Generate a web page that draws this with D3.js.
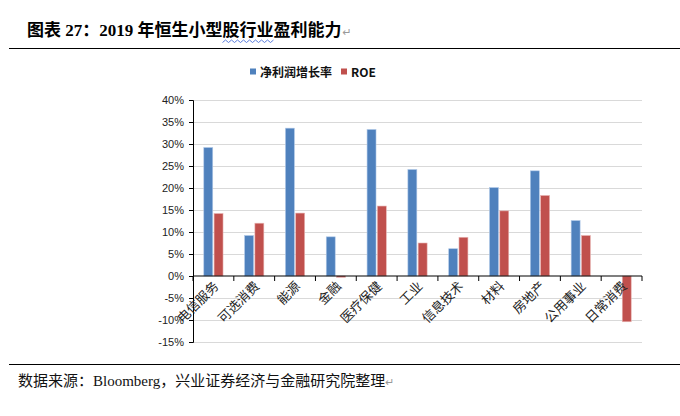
<!DOCTYPE html>
<html>
<head>
<meta charset="utf-8">
<script src="https://cdn.jsdelivr.net/npm/d3@7"></script>
<style>
  body { margin: 0; background: #fff; }
  svg { display: block; }
  .ytick text { font-family: "Liberation Sans", Arial, sans-serif; font-size: 11px; fill: #222; }
  .xlabel { font-family: "Liberation Serif", "Noto Sans CJK SC", serif; font-size: 13px; fill: #222; }
  .legendText { font-family: "Noto Sans CJK SC", sans-serif; font-size: 12px; font-weight: bold; fill: #111; }
  .ret { font-family: "DejaVu Sans", sans-serif; font-weight: normal; fill: #999; }
</style>
</head>
<body>
<div id="chart"></div>
<script>
const categories = ['电信服务', '可选消费', '能源', '金融', '医疗保健', '工业', '信息技术', '材料', '房地产', '公用事业', '日常消费']
const netProfitGrowth = [29.2, 9.2, 33.6, 8.9, 33.3, 24.2, 6.2, 20.1, 23.9, 12.6, 0]
const roe = [14.2, 12.0, 14.3, -0.3, 15.9, 7.5, 8.8, 14.8, 18.3, 9.2, -10.4]
const seriesNames = ['净利润增长率', 'ROE']
const yTicks = [-15, -10, -5, 0, 5, 10, 15, 20, 25, 30, 35, 40]

const width = 680
const height = 416
const plot = {left: 193, right: 642, top: 100, bottom: 342}
const colors = ['#4f81bd', '#c0504d']

const svg = d3.select('#chart').append('svg')
  .attr('width', width)
  .attr('height', height)

// title + rules
const title = svg.append('text')
  .attr('x', 27)
  .attr('y', 36)
  .attr('font-family', '"Liberation Serif", "Noto Sans CJK SC", serif')
  .attr('font-size', 17)
  .attr('font-weight', 'bold')
  .attr('fill', '#000')
title.append('tspan').text('图表 27：2019 年恒生小型股')
const squiggleStart = title.node().getComputedTextLength()
title.append('tspan').text('行业')
const squiggleEnd = title.node().getComputedTextLength()
title.append('tspan').text('盈利能力')
title.append('tspan').attr('class', 'ret').attr('font-size', 11).attr('dx', 1).text('↵')

// squiggly underline (spell check mark in the source doc)
const sq0 = 27 + squiggleStart - 17
const sq1 = 27 + squiggleEnd
const wave = d3.range(0, Math.floor((sq1 - sq0) / 3) + 1).map(i => [sq0 + i * 3, i % 2 ? 40 : 42.5])
svg.append('path')
  .attr('d', d3.line()(wave))
  .attr('fill', 'none')
  .attr('stroke', '#4a6fd8')
  .attr('stroke-width', 0.9)

svg.append('line')
  .attr('x1', 9).attr('x2', width)
  .attr('y1', 48.5).attr('y2', 48.5)
  .attr('stroke', '#000').attr('stroke-width', 1.2)

svg.append('line')
  .attr('x1', 9).attr('x2', width)
  .attr('y1', 364.5).attr('y2', 364.5)
  .attr('stroke', '#000').attr('stroke-width', 1.2)

const source = svg.append('text')
  .attr('x', 18)
  .attr('y', 386)
  .attr('font-family', '"Liberation Serif", "Noto Sans CJK SC", serif')
  .attr('font-size', 15)
  .attr('fill', '#111')
source.append('tspan').text('数据来源：Bloomberg，兴业证券经济与金融研究院整理')
source.append('tspan').attr('class', 'ret').attr('font-size', 11).text('↵')

// scales
const x = d3.scaleBand()
  .domain(categories)
  .range([plot.left, plot.right])

const series = d3.scaleBand()
  .domain(seriesNames)
  .range([0, x.bandwidth()])
  .paddingInner(0.13)
  .paddingOuter(1.05)

const y = d3.scaleLinear()
  .domain([-15, 40])
  .range([plot.bottom, plot.top])

// gridlines
svg.append('g')
  .selectAll('line')
  .data(yTicks.filter(d => d !== 0))
  .join('line')
  .attr('x1', plot.left)
  .attr('x2', plot.right)
  .attr('y1', d => y(d) + 0.5)
  .attr('y2', d => y(d) + 0.5)
  .attr('stroke', '#d9d9d9')
  .attr('stroke-width', 1.2)

// bars
const rows = categories.map((c, i) => ({cat: c, values: [netProfitGrowth[i], roe[i]]}))

svg.append('g')
  .selectAll('g')
  .data(rows)
  .join('g')
  .attr('transform', d => `translate(${x(d.cat)},0)`)
  .selectAll('rect')
  .data(d => d.values.map((v, j) => ({key: seriesNames[j], value: v, j})))
  .join('rect')
  .filter(d => d.value !== 0)
  .attr('x', d => series(d.key))
  .attr('width', series.bandwidth())
  .attr('y', d => y(Math.max(0, d.value)))
  .attr('height', d => Math.abs(y(d.value) - y(0)))
  .attr('fill', d => colors[d.j])
  .attr('stroke', d => d.j ? '#e8b4b2' : '#b0c8e8')
  .attr('stroke-width', 0.6)

// y axis
const yAxis = svg.append('g')
  .attr('class', 'ytick')
  .attr('transform', `translate(${plot.left},0)`)
  .call(d3.axisLeft(y).tickValues(yTicks).tickSize(4).tickPadding(5).tickFormat(d => d + '%'))
yAxis.select('.domain').attr('stroke', '#000')
yAxis.selectAll('line').attr('stroke', '#000')

// x axis at 0
const xAxis = svg.append('g')
  .attr('transform', `translate(0,${y(0)})`)
xAxis.append('line')
  .attr('x1', plot.left).attr('x2', plot.right)
  .attr('y1', 0).attr('y2', 0)
  .attr('stroke', '#000').attr('stroke-width', 1.2)
xAxis.selectAll('.xt')
  .data(categories.map(c => x(c)).concat([plot.right]))
  .join('line')
  .attr('class', 'xt')
  .attr('x1', d => d).attr('x2', d => d)
  .attr('y1', 0).attr('y2', 5)
  .attr('stroke', '#000')

xAxis.selectAll('.xlabel')
  .data(categories)
  .join('text')
  .attr('class', 'xlabel')
  .attr('text-anchor', 'end')
  .attr('transform', d => `translate(${x(d) + x.bandwidth() / 2 + 6},${11}) rotate(-45)`)
  .text(d => d)

// legend
const legend = svg.append('g')
  .attr('transform', 'translate(250,72)')
const legendX = [0, 91]
const legendItem = legend.selectAll('g')
  .data(seriesNames)
  .join('g')
  .attr('transform', (d, i) => `translate(${legendX[i]},0)`)
legendItem.append('rect')
  .attr('x', 0).attr('y', -3.5)
  .attr('width', 6).attr('height', 6)
  .attr('fill', (d, i) => colors[i])
legendItem.append('text')
  .attr('class', 'legendText')
  .attr('x', 10)
  .attr('y', 4.5)
  .text(d => d)
</script>
</body>
</html>
